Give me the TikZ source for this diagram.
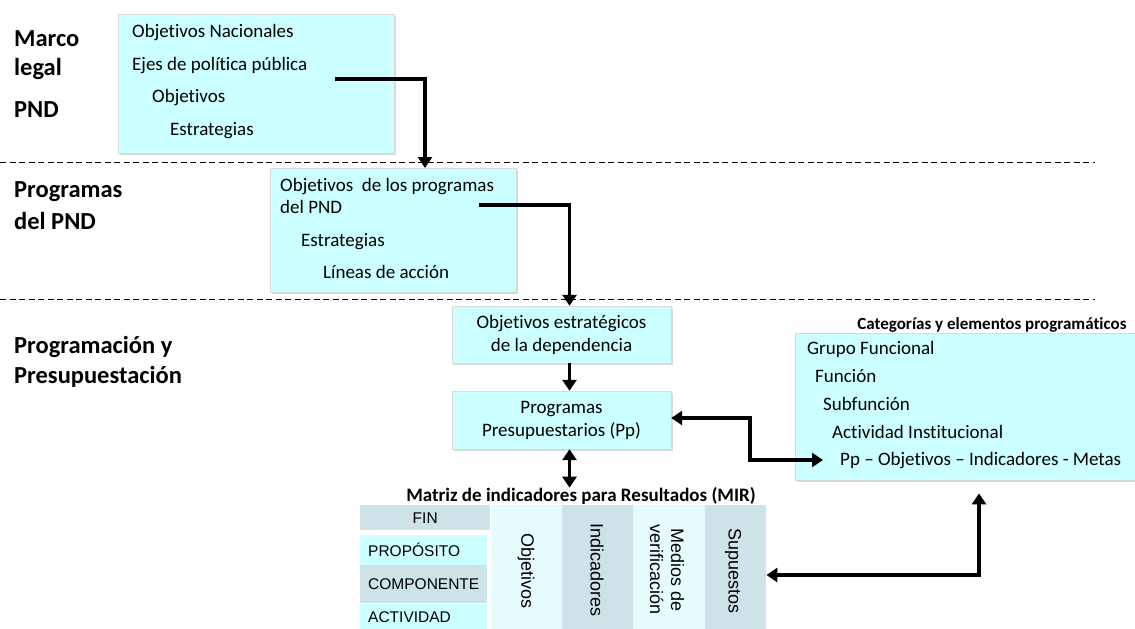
\documentclass[tikz,border=0pt]{standalone}
\usepackage{fontspec}
\setmainfont{Carlito}[Ligatures = NoCommon]
\newfontfamily\arialfont{Liberation Sans}
\usepackage{tikz}
\usetikzlibrary{positioning,calc,arrows.meta,shadows}

\definecolor{boxcyan}{HTML}{CCFFFF}
\definecolor{mirgray}{HTML}{CDE3E7}
\definecolor{mirlight}{HTML}{E6FCFC}

\tikzset{
  box/.style = {fill = boxcyan, draw = gray!30, inner sep = 0pt,
    drop shadow = {opacity = 0.3, shadow xshift = 2pt, shadow yshift = -2pt}},
  txt/.style = {anchor = base west, inner sep = 0pt,
    font = \fontsize{19}{23}\selectfont},
  lvl/.style = {anchor = base west, inner sep = 0pt,
    font = \fontsize{24.5}{29}\selectfont\bfseries},
  ttl/.style = {anchor = base, inner sep = 0pt, font = \fontsize{17}{20}\selectfont\bfseries},
  cell/.style = {anchor = north west, inner sep = 0pt, draw = none},
  rowtxt/.style = {inner sep = 0pt, font = \arialfont\fontsize{15.5}{18}\selectfont},
  coltxt/.style = {inner sep = 0pt, rotate = -90, align = center,
    font = \arialfont\fontsize{18}{21}\selectfont},
  tip/.tip = {Triangle[length = 11pt, width = 14pt]},
  link/.style = {line width = 3.5pt, -tip},
  twolink/.style = {line width = 3.5pt, tip-tip},
  level/.style = {dash pattern = on 6pt off 3.5pt, line width = 0.8pt}
}

\begin{document}
\begin{tikzpicture}[x = 1pt, y = -1pt]
  \useasboundingbox (0,0) rectangle (1135,629);

  % levels
  \draw[level] (0,162) -- (1095,162);
  \draw[level] (0,299) -- (1095,299);

  \node[lvl] (marco) at (14,46)  {Marco};
  \node[lvl] (legal) at (14,75)  {legal};
  \node[lvl] (pndl)  at (14,117) {PND};
  \node[lvl] (progl) at (14,197) {Programas};
  \node[lvl] (dell)  at (14,229) {del PND};
  \node[lvl] (prsl)  at (14,353) {Programación y};
  \node[lvl] (presl) at (14,383) {Presupuestación};

  % PND box
  \node[box, anchor = north west, minimum width = 276pt, minimum height = 139pt]
    (pnd) at (118,14) {};
  \node[txt] (onac) at (132,37)  {Objetivos Nacionales};
  \node[txt] (ejes) at (132,70)  {Ejes de política pública};
  \node[txt] (obj1) at (152,102) {Objetivos};
  \node[txt] (est1) at (170,135) {Estrategias};

  % programas box
  \node[box, anchor = north west, minimum width = 246pt, minimum height = 124pt]
    (prog) at (270,168) {};
  \node[txt] (oprog) at (280,191) {Objetivos\ \ de los programas};
  \node[txt] (dpnd)  at (280,213) {del PND};
  \node[txt] (est2)  at (301,246) {Estrategias};
  \node[txt] (lin)   at (323,278) {Líneas de acción};

  % dependencia and Pp
  \node[box, minimum width = 219pt, minimum height = 57pt, align = center,
    font = \fontsize{19}{23}\selectfont] (oest) at (561.5,334.5)
    {Objetivos estratégicos\\de la dependencia};
  \node[box, minimum width = 219pt, minimum height = 58pt, align = center,
    font = \fontsize{19}{23}\selectfont] (pp) at (561.5,420)
    {Programas\\Presupuestarios (Pp)};

  % categorias
  \node[ttl] (catt) at (992,329) {Categorías y elementos programáticos};
  \node[box, anchor = north west, minimum width = 345pt, minimum height = 147pt]
    (cat) at (795,333) {};
  \node[txt] (gf)    at (807,354) {Grupo Funcional};
  \node[txt] (fun)   at (815,382) {Función};
  \node[txt] (subf)  at (823,410) {Subfunción};
  \node[txt] (actin) at (832,438) {Actividad Institucional};
  \node[txt] (metas) at (840,465) {Pp – Objetivos – Indicadores - Metas};

  % MIR
  \node[ttl, font = \fontsize{19}{22}\selectfont\bfseries] (mir) at (581,501)
    {Matriz de indicadores para Resultados (MIR)};
  \node[cell, fill = mirgray,  minimum width = 130pt, minimum height = 25pt] (fin)  at (360,505) {};
  \node[cell, fill = boxcyan,  minimum width = 127pt, minimum height = 30pt] (prop) at (360,535) {};
  \node[cell, fill = mirgray,  minimum width = 127pt, minimum height = 38pt] (comp) at (360,565) {};
  \node[cell, fill = boxcyan,  minimum width = 127pt, minimum height = 26pt] (act)  at (360,604) {};
  \node[rowtxt] at (fin) {FIN};
  \node[rowtxt, right = 8pt of prop.west] {PROPÓSITO};
  \node[rowtxt, right = 8pt of comp.west] {COMPONENTE};
  \node[rowtxt, right = 8pt of act.west]  {ACTIVIDAD};

  \node[cell, fill = mirlight, minimum width = 71pt, minimum height = 125pt] (cobj) at (491,505) {};
  \node[cell, fill = mirgray,  minimum width = 71pt, minimum height = 125pt] (cind) at (562,505) {};
  \node[cell, fill = mirlight, minimum width = 72pt, minimum height = 125pt] (cmed) at (633,505) {};
  \node[cell, fill = mirgray,  minimum width = 61pt, minimum height = 125pt] (csup) at (705,505) {};
  \node[coltxt] at (526,571) {Objetivos};
  \node[coltxt] at (597,570) {Indicadores};
  \node[coltxt] at (667,570) {Medios de\\verificación};
  \node[coltxt] at (733,571) {Supuestos};

  % connectors
  \coordinate (s1) at (335,79);
  \coordinate (k1) at (425,0);
  \coordinate (s2) at (479,205);
  \coordinate (spine) at (569.5,0);
  \coordinate (k5) at (750,460);
  \coordinate (k6) at (979,575);

  \draw[link] (s1) -| (prog.north -| k1);
  \draw[link] (s2) -| (oest.north -| spine);
  \draw[link] (oest.south -| spine) -- (pp.north -| spine);
  \draw[twolink] (pp.south -| spine) -- ([yshift = -1pt]mir.north -| spine);
  \draw[twolink] ([yshift = 2pt]pp.east) -| (k5) -- ([xshift = -17pt]metas.base west |- k5);
  \draw[twolink] (csup.east |- k6) -| ([yshift = -13pt]cat.south -| k6);
\end{tikzpicture}
\end{document}
